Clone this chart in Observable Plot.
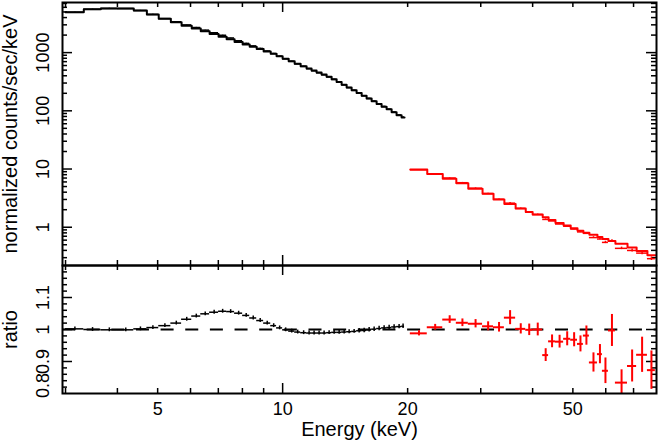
<!DOCTYPE html>
<html><head><meta charset="utf-8">
<script src="https://cdn.jsdelivr.net/npm/d3@7"></script>
<script src="https://cdn.jsdelivr.net/npm/@observablehq/plot@0.6"></script>
<style>
html,body{margin:0;padding:0;background:#fff;}
#chart{position:relative;width:659px;height:443px;overflow:hidden;background:#fff;}
#chart svg{position:absolute;left:0;}
</style></head><body><div id="chart"></div>
<script>
// ---- data ----
const blackEdges = [3.0, 3.32, 3.65, 4.0, 4.38, 4.71, 5.03, 5.38, 5.71, 6.04, 6.35, 6.67, 7.01, 7.33, 7.66, 8.01, 8.33, 8.66, 9.0, 9.36, 9.67, 10.0, 10.34, 10.69, 11.05, 11.42, 11.74, 12.07, 12.41, 12.76, 13.12, 13.49, 13.87, 14.26, 14.66, 15.07, 15.5, 15.93, 16.38, 16.84, 17.31, 17.8, 18.3, 18.81, 19.34, 19.66];
const blackModel = [4920, 5550, 5750, 5720, 5270, 4500, 3800, 3320, 2900, 2590, 2320, 2080, 1880, 1690, 1523, 1380, 1259, 1148, 1047, 952, 863, 783, 711, 645, 585, 535, 492, 454, 419, 386, 349, 313, 281, 252, 226, 203, 182, 163, 146, 131, 118, 106, 94.4, 84.1, 76.7];
const blackRatio = [1.002, 1.000, 0.999, 0.999, 1.002, 1.006, 1.012, 1.020, 1.032, 1.042, 1.049, 1.054, 1.057, 1.056, 1.051, 1.044, 1.036, 1.028, 1.020, 1.012, 1.005, 0.999, 0.995, 0.992, 0.990, 0.989, 0.989, 0.989, 0.989, 0.990, 0.991, 0.991, 0.992, 0.993, 0.994, 0.996, 0.997, 0.999, 1.001, 1.003, 1.005, 1.006, 1.008, 1.009, 1.010];
const blackErr = [0.006, 0.006, 0.006, 0.006, 0.006, 0.006, 0.006, 0.006, 0.006, 0.006, 0.006, 0.006, 0.006, 0.006, 0.006, 0.006, 0.006, 0.006, 0.006, 0.006, 0.006, 0.006, 0.006, 0.006, 0.006, 0.006, 0.006, 0.006, 0.006, 0.006, 0.006, 0.006, 0.006, 0.006, 0.006, 0.007, 0.007, 0.007, 0.007, 0.007, 0.007, 0.007, 0.007, 0.007, 0.007];

const redEdges = [20.3, 22.3, 24.3, 26.2, 28.0, 30.3, 32.2, 34.2, 36.4, 38.5, 40.0, 42.3, 43.7, 45.4, 47.5, 49.4, 51.3, 53.0, 54.8, 57.3, 58.9, 60.9, 63.3, 67.7, 71.2, 75.6, 79.0];
const redModel = [9.8, 8.2, 6.8, 5.7, 4.6, 3.75, 3.0, 2.5, 2.1, 1.82, 1.65, 1.48, 1.33, 1.18, 1.07, 0.96, 0.87, 0.80, 0.74, 0.68, 0.63, 0.58, 0.52, 0.45, 0.39, 0.33];
const redRatio = [0.988, 1.007, 1.031, 1.021, 1.018, 1.010, 1.007, 1.037, 1.002, 0.999, 1.000, 0.920, 0.963, 0.962, 0.971, 0.968, 0.955, 0.981, 0.897, 0.923, 0.871, 0.997, 0.834, 0.886, 0.921, 0.873];
const redErr = [0.008, 0.009, 0.012, 0.012, 0.013, 0.014, 0.015, 0.022, 0.016, 0.018, 0.02, 0.02, 0.02, 0.02, 0.022, 0.022, 0.025, 0.03, 0.03, 0.03, 0.04, 0.05, 0.04, 0.05, 0.055, 0.06];

const xLabelTicks = [5, 10, 20, 50];
const xMajorTicks = [10];
const xMinorTicks = [3, 4, 5, 6, 7, 8, 9, 20, 30, 40, 50, 60, 70];
const yTopLabelTicks = [1, 10, 100, 1000];
const yTopMinorTicks = [0.3, 0.4, 0.5, 0.6, 0.7, 0.8, 0.9, 2, 3, 4, 5, 6, 7, 8, 9, 20, 30, 40, 50, 60, 70, 80, 90, 200, 300, 400, 500, 600, 700, 800, 900, 2000, 3000, 4000, 5000, 6000, 7000];
const ratioLabelTicks = [0.9, 1, 1.1];
const ratioLowLabel = [0.8];
const ratioMajorTicks = [0.9, 1, 1.1];
const ratioMinorTicks = [0.82, 0.84, 0.86, 0.88, 0.92, 0.94, 0.96, 0.98, 1.02, 1.04, 1.06, 1.08, 1.12, 1.14, 1.16, 1.18];
const unityLine = [1];
const xDomain = [2.95, 79.5];
const yTopDomain = [0.22, 7260];
const ratioDomain = [0.8, 1.2];
const topTitle = "normalized counts/sec/keV";
const ratioTitle = "ratio";
const xTitle = "Energy (keV)";

// ---- layout ----
const W = 659, ML = 62, MR = 3;
const H1 = 267, MT1 = 2, MB1 = 2;
const H2 = 179, MT2 = 1, MB2 = 50;
const IW = W - ML - MR, IH1 = H1 - MT1 - MB1, IH2 = H2 - MT2 - MB2;
const MINOR = 5, MAJOR = 10;
const TICKFONT = 18, TITLEFONT = 20;
const FONT = "'Liberation Sans', Arial, Helvetica, sans-serif";
const plotStyle = {background: "transparent", fontFamily: FONT, fontSize: "18px", color: "black"};

function makeBins(edges, model, ratio, err) {
  return model.map((m, i) => ({
    lo: edges[i], hi: edges[i + 1], c: (edges[i] + edges[i + 1]) / 2,
    m, r: ratio[i], rlo: ratio[i] - err[i], rhi: ratio[i] + err[i],
    d: m * ratio[i], dlo: m * (ratio[i] - err[i]), dhi: m * (ratio[i] + err[i])
  }));
}
function makeSteps(edges, model) {
  const pts = model.map((m, i) => ({x: edges[i], y: m}));
  pts.push({x: edges[edges.length - 1], y: model[model.length - 1]});
  return pts;
}
const blackBins = makeBins(blackEdges, blackModel, blackRatio, blackErr);
const redBins = makeBins(redEdges, redModel, redRatio, redErr);

function frameTicks(ih, yMinor, yMajor) {
  const o = {stroke: "black", strokeWidth: 1.5};
  return [
    Plot.tickX(xMinorTicks, {x: d => d, insetBottom: ih - MINOR, ...o}),
    Plot.tickX(xMinorTicks, {x: d => d, insetTop: ih - MINOR, ...o}),
    Plot.tickX(xMajorTicks, {x: d => d, insetBottom: ih - MAJOR, ...o}),
    Plot.tickX(xMajorTicks, {x: d => d, insetTop: ih - MAJOR, ...o}),
    Plot.tickY(yMinor, {y: d => d, insetRight: IW - MINOR, ...o}),
    Plot.tickY(yMinor, {y: d => d, insetLeft: IW - MINOR, ...o}),
    Plot.tickY(yMajor, {y: d => d, insetRight: IW - MAJOR, ...o}),
    Plot.tickY(yMajor, {y: d => d, insetLeft: IW - MAJOR, ...o})
  ];
}
function yLabels(ticks, extra = {}) {
  return Plot.axisY(ticks, {anchor: "left", tickSize: 0, tickPadding: 19, rotate: -90, textAnchor: "middle",
    tickFormat: d => `${d}`, fontSize: TICKFONT, fill: "black", label: null, ...extra});
}
function yTitle(title) {
  return Plot.axisY([], {anchor: "left", tickSize: 0, fontSize: TITLEFONT, fill: "black",
    label: title, labelAnchor: "center", labelOffset: 60, labelArrow: "none"});
}

const topPlot = Plot.plot({
  width: W, height: H1, marginLeft: ML, marginRight: MR, marginTop: MT1, marginBottom: MB1,
  style: plotStyle,
  x: {type: "log", domain: xDomain, axis: null},
  y: {type: "log", domain: yTopDomain},
  marks: [
    ...frameTicks(IH1, yTopMinorTicks, yTopLabelTicks),
    Plot.line(makeSteps(blackEdges, blackModel), {x: "x", y: "y", curve: "step-after", stroke: "black", strokeWidth: 2}),
    Plot.ruleY(blackBins, {y: "d", x1: "lo", x2: "hi", stroke: "black", strokeWidth: 1.5}),
    Plot.ruleX(blackBins, {x: "c", y1: "dlo", y2: "dhi", stroke: "black", strokeWidth: 1.5}),
    Plot.line(makeSteps(redEdges, redModel), {x: "x", y: "y", curve: "step-after", stroke: "#ff0000", strokeWidth: 2}),
    Plot.ruleY(redBins, {y: "d", x1: "lo", x2: "hi", stroke: "#ff0000", strokeWidth: 1.5}),
    Plot.ruleX(redBins, {x: "c", y1: "dlo", y2: "dhi", stroke: "#ff0000", strokeWidth: 1.5}),
    Plot.frame({stroke: "black", strokeWidth: 2}),
    yLabels(yTopLabelTicks),
    yTitle(topTitle)
  ]
});
topPlot.style.top = "0px";

const bottomPlot = Plot.plot({
  width: W, height: H2, marginLeft: ML, marginRight: MR, marginTop: MT2, marginBottom: MB2,
  style: plotStyle,
  x: {type: "log", domain: xDomain},
  y: {type: "linear", domain: ratioDomain},
  marks: [
    ...frameTicks(IH2, ratioMinorTicks, ratioMajorTicks),
    Plot.ruleY(unityLine, {y: d => d, stroke: "black", strokeWidth: 2, strokeDasharray: "13,11.65"}),
    Plot.ruleY(blackBins, {y: "r", x1: "lo", x2: "hi", stroke: "black", strokeWidth: 1.5, clip: true}),
    Plot.ruleX(blackBins, {x: "c", y1: "rlo", y2: "rhi", stroke: "black", strokeWidth: 1.5, clip: true}),
    Plot.ruleY(redBins, {y: "r", x1: "lo", x2: "hi", stroke: "#ff0000", strokeWidth: 2, clip: true}),
    Plot.ruleX(redBins, {x: "c", y1: "rlo", y2: "rhi", stroke: "#ff0000", strokeWidth: 2, clip: true}),
    Plot.frame({stroke: "black", strokeWidth: 2}),
    yLabels(ratioLabelTicks),
    yLabels(ratioLowLabel, {dy: -8}),
    yTitle(ratioTitle),
    Plot.axisX(xLabelTicks, {anchor: "bottom", tickSize: 0, tickPadding: 9, tickFormat: d => `${d}`,
      fontSize: TICKFONT, fill: "black", label: null}),
    Plot.axisX([], {anchor: "bottom", tickSize: 0, fontSize: TITLEFONT, fill: "black",
      label: xTitle, labelAnchor: "center", labelOffset: 42, labelArrow: "none"})
  ]
});
bottomPlot.style.top = "264px";

const chart = document.getElementById("chart");
chart.append(topPlot, bottomPlot);
</script>
</body></html>
